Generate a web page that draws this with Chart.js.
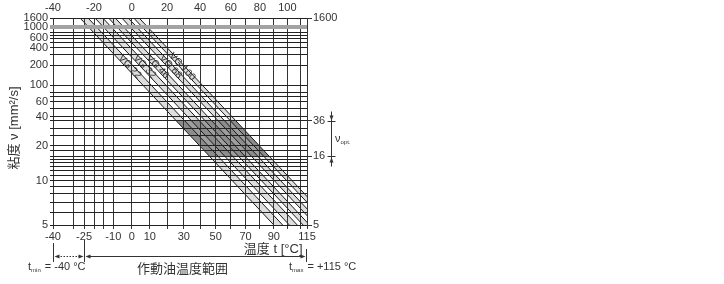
<!DOCTYPE html>
<html><head><meta charset="utf-8">
<script src="https://cdn.jsdelivr.net/npm/chart.js@4.4.1/dist/chart.umd.min.js"></script>
<style>html,body{margin:0;padding:0;background:#fff;}canvas{display:block;}</style>
</head><body>
<canvas id="c" width="724" height="284"></canvas>
<script>
// ---------------- data ----------------
const gradeNames = ['VG 22', 'VG 32', 'VG 46', 'VG 68', 'VG 100'];
// temperature (°C) where each band edge meets 1600 mm²/s (top) and 5 mm²/s (bottom)
const bandLowTop     = [-27, -19.5, -12.5, -5.5, 1];
const bandHighTop    = [-23, -15.5, -9, -2, 4];
const bandLowBottom  = [90, 101.5, 112, 122, 132];
const bandHighBottom = [96.5, 107.5, 117, 127, 136.5];
const optRange = [16, 36];          // ν opt
const nuRange = [5, 1600];          // viscosity axis range
const tempRange = [-40, 115];       // t min / t max
const tempColdStart = -25;
const labelNu = 190;
const yGridValues = [5,6,7,8,9,10,11,12,13,14,15,16,18,20,25,30,36,40,50,60,70,80,100,200,300,400,500,600,700,800,1000,1600];
const yLabels = [1600,1000,600,400,200,100,60,40,20,10,5];
const yRightLabels = [1600,36,16,5];
const startBand = 1000;
const xGridValues = [-40,-30,-25,-20,-15,-10,0,10,20,30,40,50,60,70,80,90,100,110,115];
const xBottomLabels = [-40,-25,-10,0,10,30,50,70,90,115];
const xTopLabels = [-40,-20,0,20,40,60,80,100];

// ---------------- scale transforms ----------------
const tf = t => Math.log10(t + 273.15);
const tfInv = u => Math.pow(10, u) - 273.15;
const vf = v => Math.log10(Math.log10(v + 0.7));
const vfInv = w => Math.pow(10, Math.pow(10, w)) - 0.7;

function makeScale(id, fwd, inv) {
  class S extends Chart.LinearScale {
    getPixelForValue(value) {
      if (value === null || value === undefined || Number.isNaN(+value)) return NaN;
      const a = fwd(this.min), b = fwd(this.max);
      return this.getPixelForDecimal((fwd(+value) - a) / (b - a));
    }
    getValueForPixel(pixel) {
      const a = fwd(this.min), b = fwd(this.max);
      return inv(a + this.getDecimalForPixel(pixel) * (b - a));
    }
  }
  S.id = id;
  S.defaults = Chart.LinearScale.defaults;
  Chart.register(S);
}
makeScale('tkelvin', tf, tfInv);
makeScale('walther', vf, vfInv);

// where a band edge line (straight on this chart) reaches viscosity nu
function tempAt(tTop, tBot, nu) {
  const u = tf(tTop) + (vf(nu) - vf(nuRange[1])) * (tf(tBot) - tf(tTop)) / (vf(nuRange[0]) - vf(nuRange[1]));
  return tfInv(u);
}

Chart.defaults.font.family = '"Liberation Sans", Arial, sans-serif';
Chart.defaults.font.size = 11;
Chart.defaults.color = '#333';

// ---------------- datasets ----------------
const datasets = [];
for (let i = 0; i < gradeNames.length; i++) {
  [[bandLowTop[i], bandLowBottom[i]], [bandHighTop[i], bandHighBottom[i]]].forEach(([a, b]) => {
    datasets.push({
      data: [{x: a, y: nuRange[1]}, {x: b, y: nuRange[0]}],
      borderColor: '#1a1a1a', borderWidth: 1, pointRadius: 0, fill: false, order: 0
    });
  });
}
const last = gradeNames.length - 1;
datasets.push({
  data: [
    {x: tempAt(bandLowTop[0], bandLowBottom[0], optRange[1]), y: optRange[1]},
    {x: tempAt(bandHighTop[last], bandHighBottom[last], optRange[1]), y: optRange[1]},
    {x: tempAt(bandHighTop[last], bandHighBottom[last], optRange[0]), y: optRange[0]},
    {x: tempAt(bandLowTop[0], bandLowBottom[0], optRange[0]), y: optRange[0]}
  ],
  borderColor: 'rgba(0,0,0,0)', borderWidth: 0, pointRadius: 0,
  fill: 'shape', backgroundColor: 'rgba(40,40,40,0.45)', order: 1
});
for (let i = 0; i < gradeNames.length; i++) {
  datasets.push({
    data: [
      {x: bandLowTop[i], y: nuRange[1]}, {x: bandLowBottom[i], y: nuRange[0]},
      {x: bandHighBottom[i], y: nuRange[0]}, {x: bandHighTop[i], y: nuRange[1]}
    ],
    borderColor: 'rgba(0,0,0,0)', borderWidth: 0, pointRadius: 0,
    fill: 'shape', backgroundColor: '#dedede', order: 2
  });
}

// ---------------- annotations ----------------
function arrowHead(ctx, x, y, dir) {
  ctx.beginPath();
  ctx.moveTo(x, y);
  ctx.lineTo(x - dir * 5, y - 2);
  ctx.lineTo(x - dir * 5, y + 2);
  ctx.closePath();
  ctx.fill();
}
function vArrow(ctx, x, y, dir) {
  ctx.beginPath();
  ctx.moveTo(x, y);
  ctx.lineTo(x - 2, y - dir * 5);
  ctx.lineTo(x + 2, y - dir * 5);
  ctx.closePath();
  ctx.fill();
}
function seg(ctx, x1, y1, x2, y2) {
  ctx.beginPath(); ctx.moveTo(x1, y1); ctx.lineTo(x2, y2); ctx.stroke();
}
function subText(ctx, x, y, main, sub, rest, size) {
  ctx.font = size + 'px "Liberation Sans", Arial, sans-serif';
  ctx.fillText(main, x, y);
  let w = ctx.measureText(main).width;
  ctx.font = Math.round(size * 0.55) + 'px "Liberation Sans", Arial, sans-serif';
  ctx.fillText(sub, x + w, y + 2);
  w += ctx.measureText(sub).width;
  ctx.font = size + 'px "Liberation Sans", Arial, sans-serif';
  ctx.fillText(rest, x + w + 1, y);
}

const annot = {
  id: 'annot',
  afterDraw(chart) {
    const ctx = chart.ctx, xs = chart.scales.x, ys = chart.scales.y;
    ctx.save();
    ctx.fillStyle = '#333'; ctx.strokeStyle = '#333'; ctx.lineWidth = 1;
    const jp = '"Liberation Sans", "Noto Sans CJK JP", sans-serif';

    // VG labels
    ctx.font = '10px "Liberation Sans", Arial, sans-serif';
    ctx.textAlign = 'center'; ctx.textBaseline = 'middle';
    for (let i = 0; i < gradeNames.length; i++) {
      const tLo = tempAt(bandLowTop[i], bandLowBottom[i], labelNu);
      const tHi = tempAt(bandHighTop[i], bandHighBottom[i], labelNu);
      const tc = tfInv((tf(tLo) + tf(tHi)) / 2);
      const px = xs.getPixelForValue(tc), py = ys.getPixelForValue(labelNu);
      const ang = Math.atan2(ys.getPixelForValue(nuRange[0]) - ys.getPixelForValue(nuRange[1]),
        xs.getPixelForValue(bandLowBottom[i]) - xs.getPixelForValue(bandLowTop[i]));
      ctx.save(); ctx.translate(px, py); ctx.rotate(ang);
      ctx.fillText(gradeNames[i], 0, 0);
      ctx.restore();
    }

    // y title
    ctx.save();
    ctx.translate(14, 128); ctx.rotate(-Math.PI / 2);
    ctx.font = '13px ' + jp; ctx.textAlign = 'center'; ctx.textBaseline = 'middle';
    ctx.fillText('粘度 ν [mm²/s]', 0, 0);
    ctx.restore();

    // temperature range dimension line
    const ay = 256.5;
    const xMin = Math.round(xs.getPixelForValue(tempRange[0])) + 0.5;
    const xCold = Math.round(xs.getPixelForValue(tempColdStart)) + 0.5;
    const xMax = Math.round(xs.getPixelForValue(tempRange[1])) - 0.5;
    seg(ctx, xMin, 243, xMin, 262);
    seg(ctx, xCold, 240, xCold, 262);
    seg(ctx, xMax, 249, xMax, 262);
    ctx.setLineDash([1.5, 1.5]);
    seg(ctx, xMin + 4, ay, xCold - 4, ay);
    ctx.setLineDash([]);
    arrowHead(ctx, xMin + 1, ay, -1);
    arrowHead(ctx, xCold - 1, ay, 1);
    seg(ctx, xCold + 4, ay, xMax - 4, ay);
    arrowHead(ctx, xCold + 1, ay, -1);
    arrowHead(ctx, xMax - 1, ay, 1);

    ctx.textAlign = 'right'; ctx.textBaseline = 'alphabetic';
    ctx.font = '13px ' + jp;
    ctx.fillText('温度 t [°C]', xMax - 4, 253);
    ctx.textAlign = 'left';
    ctx.fillText('作動油温度範囲', 137, 273);
    subText(ctx, 28, 270, 't', 'min', ' = -40 °C', 11);
    subText(ctx, 289, 270, 't', 'max', ' = +115 °C', 11);

    // ν opt bracket
    const bx = 331.5;
    const y36 = Math.round(ys.getPixelForValue(optRange[1])) + 0.5;
    const y16 = Math.round(ys.getPixelForValue(optRange[0])) + 0.5;
    seg(ctx, bx, y36 - 10, bx, y16 + 10);
    seg(ctx, bx - 4, y36, bx + 4, y36);
    seg(ctx, bx - 4, y16, bx + 4, y16);
    vArrow(ctx, bx, y36 - 1, 1);
    vArrow(ctx, bx, y16 + 1, -1);
    subText(ctx, 335, (y36 + y16) / 2 + 3, 'ν', 'opt.', '', 11);
    ctx.restore();
  }
};

const gridColor = c => (c.tick && c.tick.value === startBand) ? '#a3a3a3' : '#222';
const gridWidth = c => (c.tick && c.tick.value === startBand) ? 4 : 1;

new Chart(document.getElementById('c'), {
  type: 'line',
  data: {datasets},
  options: {
    responsive: false, animation: false, events: [],
    layout: {padding: {left: 0, top: 0, right: 377, bottom: 37}},
    plugins: {legend: {display: false}, tooltip: {enabled: false}},
    scales: {
      x: {
        type: 'tkelvin', position: 'bottom', min: tempRange[0], max: tempRange[1], bounds: 'data',
        afterBuildTicks: s => { s.ticks = xGridValues.map(v => ({value: v})); },
        afterFit: s => { s.height = 22; },
        grid: {color: '#333', lineWidth: 1, z: 1, tickLength: 4},
        border: {display: false},
        ticks: {autoSkip: false, maxRotation: 0, minRotation: 0, padding: 1,
          callback: v => xBottomLabels.includes(v) ? String(v) : ''}
      },
      x2: {
        type: 'tkelvin', position: 'top', min: tempRange[0], max: tempRange[1], bounds: 'data',
        afterBuildTicks: s => { s.ticks = xTopLabels.map(v => ({value: v})); },
        afterFit: s => { s.height = 18; },
        grid: {display: false, drawTicks: false, tickLength: 0}, border: {display: false},
        ticks: {autoSkip: false, maxRotation: 0, minRotation: 0, padding: 3,
          callback: v => String(v)}
      },
      y: {
        type: 'walther', position: 'left', min: nuRange[0], max: nuRange[1], bounds: 'data',
        afterBuildTicks: s => { s.ticks = yGridValues.map(v => ({value: v})); },
        afterFit: s => { s.width = 53; },
        grid: {color: gridColor, lineWidth: gridWidth, z: 1, tickLength: 3},
        border: {display: false},
        ticks: {autoSkip: false, padding: 2,
          callback: v => yLabels.includes(v) ? String(v) : ''}
      },
      y2: {
        type: 'walther', position: 'right', min: nuRange[0], max: nuRange[1], bounds: 'data',
        afterBuildTicks: s => { s.ticks = yRightLabels.map(v => ({value: v})); },
        afterFit: s => { s.width = 40; },
        grid: {drawOnChartArea: false, color: '#333', tickLength: 5},
        border: {display: false},
        ticks: {autoSkip: false, padding: 1, callback: v => String(v)}
      }
    }
  },
  plugins: [annot]
});
</script>
</body></html>
